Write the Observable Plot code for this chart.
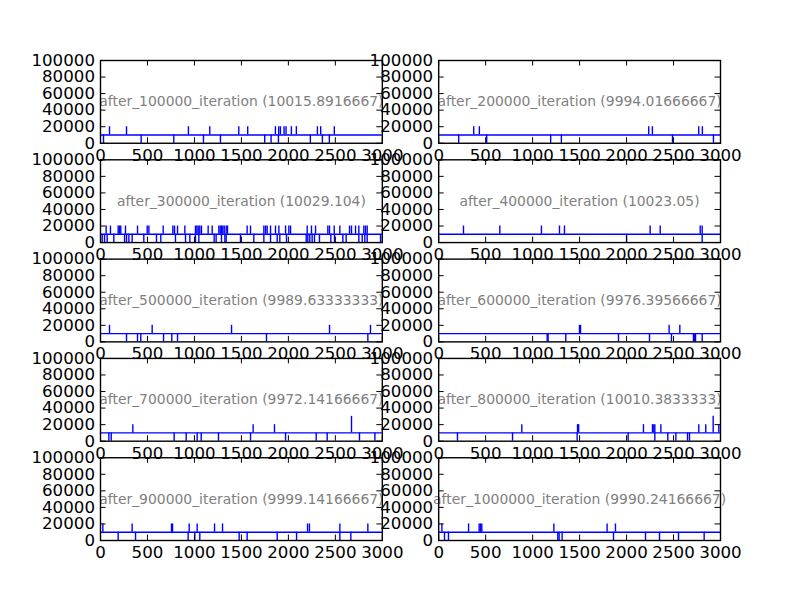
<!DOCTYPE html>
<html>
<head>
<meta charset="utf-8">
<script src="https://cdn.jsdelivr.net/npm/d3@7"></script>
<script src="https://cdn.jsdelivr.net/npm/@observablehq/plot@0.6"></script>
<style>
  html, body { margin: 0; padding: 0; background: #ffffff; }
  #fig { position: relative; width: 800px; height: 600px; background: #ffffff; }
  #fig svg { position: absolute; left: 0; top: 0; }
</style>
</head>
<body>
<div id="fig"></div>
<script>
// ---- data ----
const iterations = [100000, 200000, 300000, 400000, 500000, 600000, 700000, 800000, 900000, 1000000];
const means = ["10015.8916667", "9994.01666667", "10029.104", "10023.05", "9989.63333333",
               "9976.39566667", "9972.14166667", "10010.3833333", "9999.14166667", "9990.24166667"];
const baseline = 10000;
const highValue = 20000;
const tallValue = 30000;
const lowValue = 0;

// spike positions (x index): up = 20000, down = 0, tall = 30000
const up1 = [96, 277, 936, 1163, 1472, 1567, 1862, 1897, 1915, 1954, 1975, 2032, 2085, 2309, 2344, 2489];
const down1 = [32, 433, 780, 1096, 1277, 1748, 1816, 1894, 2234, 2362, 2436];
const up2 = [373, 433, 2236, 2275, 2768, 2807];
const down2 = [213, 511, 1192, 1306, 2489, 2925];
const up3 = [60, 106, 188, 202, 216, 266, 394, 497, 515, 667, 770, 788, 820, 898, 1011, 1026, 1040, 1057, 1075,
             1146, 1189, 1260, 1274, 1288, 1302, 1317, 1338, 1352, 1561, 1597, 1739, 1757, 1774, 1810, 1863, 1899,
             1970, 2005, 2023, 2200, 2246, 2289, 2420, 2438, 2488, 2548, 2651, 2672, 2715, 2750, 2803, 2821, 2839];
const down3 = [18, 43, 71, 142, 256, 277, 302, 337, 461, 596, 642, 798, 905, 951, 1011, 1047, 1210, 1231, 1288,
               1324, 1338, 1490, 1632, 1739, 1810, 1881, 1909, 1980, 2190, 2207, 2228, 2253, 2278, 2331, 2452,
               2491, 2580, 2615, 2750, 2786, 2814, 2839, 2981];
const up4 = [264, 651, 1094, 1286, 1339, 2251, 2358, 2784, 2805];
const down4 = [2000, 2805];
const up5 = [96, 550, 1395, 2438, 2874];
const down5 = [277, 394, 429, 671, 759, 820, 1767, 2846];
const up6 = [1499, 1510, 2453, 2567];
const down6 = [1155, 1165, 1353, 1914, 2244, 2478, 2712, 2723, 2734, 2805];
const up7 = [344, 1625, 1852];
const tall7 = [2672];
const down7 = [89, 114, 784, 912, 1029, 1072, 1256, 1597, 1970, 2296, 2413, 2757, 2921];
const up8 = [885, 1478, 1490, 2180, 2276, 2290, 2301, 2365, 2769, 2843, 2982];
const tall8 = [2922];
const down8 = [200, 786, 1474, 2017, 2301, 2439, 2525, 2649, 2670];
const up9 = [25, 337, 756, 767, 944, 1029, 1214, 1299, 2204, 2224, 2548, 2846];
const down9 = [188, 373, 933, 1004, 1057, 1476, 1561, 1881, 2087, 2548, 2665];
const up10 = [34, 318, 431, 445, 459, 1226, 1793, 1882];
const down10 = [62, 104, 1268, 1282, 1314, 1861, 2202, 2351, 2553, 2826];

const ups = [up1, up2, up3, up4, up5, up6, up7, up8, up9, up10];
const downs = [down1, down2, down3, down4, down5, down6, down7, down8, down9, down10];
const talls = [[], [], [], [], [], [], tall7, tall8, [], []];

const xTicks = [0, 500, 1000, 1500, 2000, 2500, 3000];
const yTicks = [0, 20000, 40000, 60000, 80000, 100000];

// ---- layout (matplotlib default subplot grid 5x2) ----
const figW = 800, figH = 600;
const gridL = 100, gridR = 720, gridT = 60, gridB = 540;
const nRows = 5, nCols = 2, wspace = 0.2, hspace = 0.2;
const axW = (gridR - gridL) / (nCols + (nCols - 1) * wspace);
const axH = (gridB - gridT) / (nRows + (nRows - 1) * hspace);
const tickLen = 5.5;
const tickFont = 16.67;
const titleFont = 13.9;
const lineW = 1.4;

const fig = document.getElementById("fig");

iterations.forEach((it, i) => {
  const row = Math.floor(i / nCols), col = i % nCols;
  const axL = gridL + col * axW * (1 + wspace);
  const axT = gridT + row * axH * (1 + hspace);
  const spikes = [
    ...ups[i].map(x => ({x, v: highValue})),
    ...downs[i].map(x => ({x, v: lowValue})),
    ...talls[i].map(x => ({x, v: tallValue}))
  ];
  const title = [`after_${it}_iteration (${means[i]})`];
  const svg = Plot.plot({
    width: figW,
    height: figH,
    marginLeft: axL,
    marginRight: figW - (axL + axW),
    marginTop: axT,
    marginBottom: figH - (axT + axH),
    style: {background: "transparent", overflow: "visible", fontFamily: "DejaVu Sans", fontSize: tickFont + "px", color: "black"},
    x: {domain: [0, 3000]},
    y: {domain: [0, 100000]},
    marks: [
      Plot.ruleY([baseline], {stroke: "#0000ff", strokeWidth: lineW}),
      Plot.ruleX(spikes, {x: "x", y1: () => baseline, y2: "v", stroke: "#0000ff", strokeWidth: lineW}),
      Plot.text(title, {frameAnchor: "middle", text: d => d, fill: "#808080", fontSize: titleFont, fontFamily: "DejaVu Sans"}),
      Plot.frame({stroke: "black", strokeWidth: lineW}),
      Plot.tickX(xTicks, {x: d => d, stroke: "black", insetTop: axH - tickLen}),
      Plot.tickX(xTicks, {x: d => d, stroke: "black", insetBottom: axH - tickLen}),
      Plot.tickY(yTicks, {y: d => d, stroke: "black", insetRight: axW - tickLen}),
      Plot.tickY(yTicks, {y: d => d, stroke: "black", insetLeft: axW - tickLen}),
      Plot.axisX({ticks: xTicks, tickSize: 0, tickPadding: tickLen, tickFormat: d => String(d), label: null, fontSize: tickFont, fill: "black"}),
      Plot.axisY({ticks: yTicks, tickSize: 0, tickPadding: tickLen, tickFormat: d => String(d), label: null, fontSize: tickFont, fill: "black"})
    ]
  });
  fig.appendChild(svg);
});
</script>
</body>
</html>
